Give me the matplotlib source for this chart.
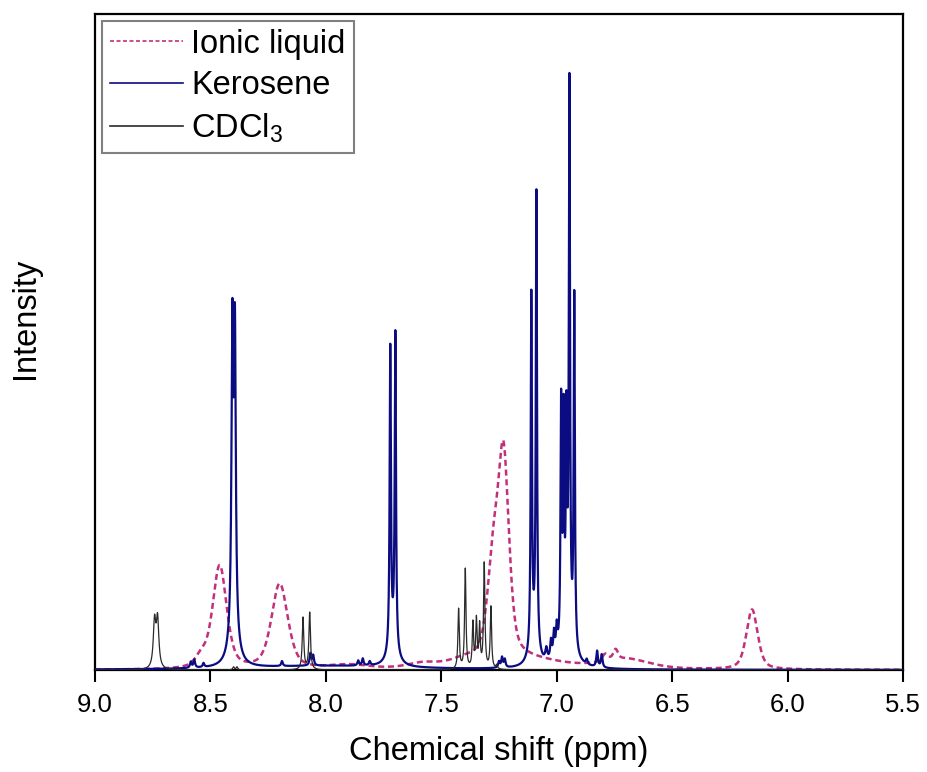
import numpy as np
import matplotlib
matplotlib.use("Agg")
import matplotlib.pyplot as plt

plt.rcParams['font.family'] = ['Liberation Sans', 'DejaVu Sans']
plt.rcParams['mathtext.fontset'] = 'custom'
plt.rcParams['mathtext.rm'] = 'Liberation Sans'
plt.rcParams['mathtext.it'] = 'Liberation Sans:italic'

# ---------------- data (peak lists) ----------------
# Ionic liquid: centre (ppm), height (a.u.), half width at half max (ppm)
il_shift = [8.54, 8.46, 8.20, 7.90, 7.58, 7.40, 7.275, 7.23, 7.15, 6.79, 6.745, 6.70, 6.154]
il_height = [10, 103, 85, 4, 5, 6, 90, 195, 10, 7, 10, 10, 60]
il_hwhm = [0.03, 0.036, 0.042, 0.10, 0.08, 0.08, 0.030, 0.028, 0.20, 0.015, 0.012, 0.12, 0.029]

# Kerosene
ke_shift = [8.585, 8.57, 8.53, 8.405, 8.394, 8.40, 8.19, 8.067, 8.055, 8.00,
            7.86, 7.84, 7.81, 7.721, 7.699, 7.71, 7.25, 7.237, 7.225,
            7.110, 7.088, 7.10, 7.045, 7.025, 7.012, 7.000,
            6.981, 6.970, 6.958, 6.945, 6.924, 6.955, 6.87, 6.825, 6.805]
ke_height = [6, 8, 4, 292, 288, 38, 5, 12, 10, 4,
             5, 7, 4, 300, 314, 22, 6, 10, 8,
             352, 455, 22, 12, 18, 24, 26,
             240, 215, 205, 550, 352, 26, 5, 16, 13]
ke_hwhm = [0.004, 0.004, 0.004, 0.0045, 0.0045, 0.02, 0.004, 0.004, 0.004, 0.40,
           0.004, 0.004, 0.004, 0.0032, 0.0032, 0.02, 0.004, 0.004, 0.004,
           0.003, 0.003, 0.02, 0.005, 0.004, 0.004, 0.004,
           0.003, 0.003, 0.003, 0.003, 0.003, 0.03, 0.004, 0.004, 0.004]

# CDCl3
cd_shift = [8.742, 8.729, 8.40, 8.385, 8.099, 8.070,
            7.425, 7.396, 7.363, 7.348, 7.334, 7.314, 7.285, 7.26]
cd_height = [46, 48, 3, 3, 52, 57,
             60, 100, 45, 48, 42, 105, 62, 4]
cd_hwhm = [0.0065, 0.0065, 0.004, 0.004, 0.004, 0.004,
           0.0035, 0.0035, 0.0035, 0.0035, 0.0035, 0.0035, 0.0035, 0.004]

x_ticks = [9.0, 8.5, 8.0, 7.5, 7.0, 6.5, 6.0, 5.5]
labels = ['Ionic liquid', 'Kerosene', r'CDCl$_\mathregular{3}$']


def spectrum(ppm, shifts, heights, widths, eta=1.0):
    y = np.zeros_like(ppm)
    for c, h, w in zip(shifts, heights, widths):
        d2 = ((ppm - c) / w) ** 2
        lor = 1.0 / (1.0 + d2)
        gau = np.exp(-np.log(2) * d2)
        y += h * (eta * lor + (1 - eta) * gau)
    return y


ppm = np.linspace(9.0, 5.5, 14001)
y_il = spectrum(ppm, il_shift, il_height, il_hwhm, eta=0.5)
y_ke = spectrum(ppm, ke_shift, ke_height, ke_hwhm)
y_cd = spectrum(ppm, cd_shift, cd_height, cd_hwhm)

W, H = 927, 772
fig = plt.figure(figsize=(W / 100, H / 100), dpi=100)
ax = fig.add_axes([95 / W, 1 - 670 / H, (903 - 95) / W, (670 - 14) / H])

ax.plot(ppm, y_il, color='#c2307c', lw=1.8, ls=(0, (2.4, 1.5)), label=labels[0], zorder=2)
ax.plot(ppm, y_ke, color='#0c0c82', lw=1.6, label=labels[1], zorder=3)
ax.plot(ppm, y_cd, color='#2a2a2a', lw=0.9, label=labels[2], zorder=4)

ax.set_xlim(9.0, 5.5)
ax.set_ylim(0, 656)
ax.set_xticks(x_ticks)
ax.set_xticklabels([f'{t:.1f}' for t in x_ticks])
ax.set_yticks([])
ax.tick_params(axis='x', direction='out', length=8.5, width=1.5, labelsize=18.5, pad=8)
for s in ax.spines.values():
    s.set_linewidth(1.6)

ax.set_xlabel('Chemical shift (ppm)', fontsize=23.5, labelpad=14)
fig.text(26 / W, 1 - 318 / H, 'Intensity', rotation=90, ha='center', va='center', fontsize=23.5)

leg = ax.legend(loc='upper left', fontsize=23.5, frameon=True, fancybox=False,
                edgecolor='#808080', framealpha=1, borderaxespad=0.2, borderpad=0.25,
                handlelength=2.25, handletextpad=0.25, labelspacing=0.32)
leg.get_frame().set_linewidth(1.5)
for h in leg.get_lines():
    h.set_linewidth(1.2)

fig.savefig('out.png', dpi=100)
